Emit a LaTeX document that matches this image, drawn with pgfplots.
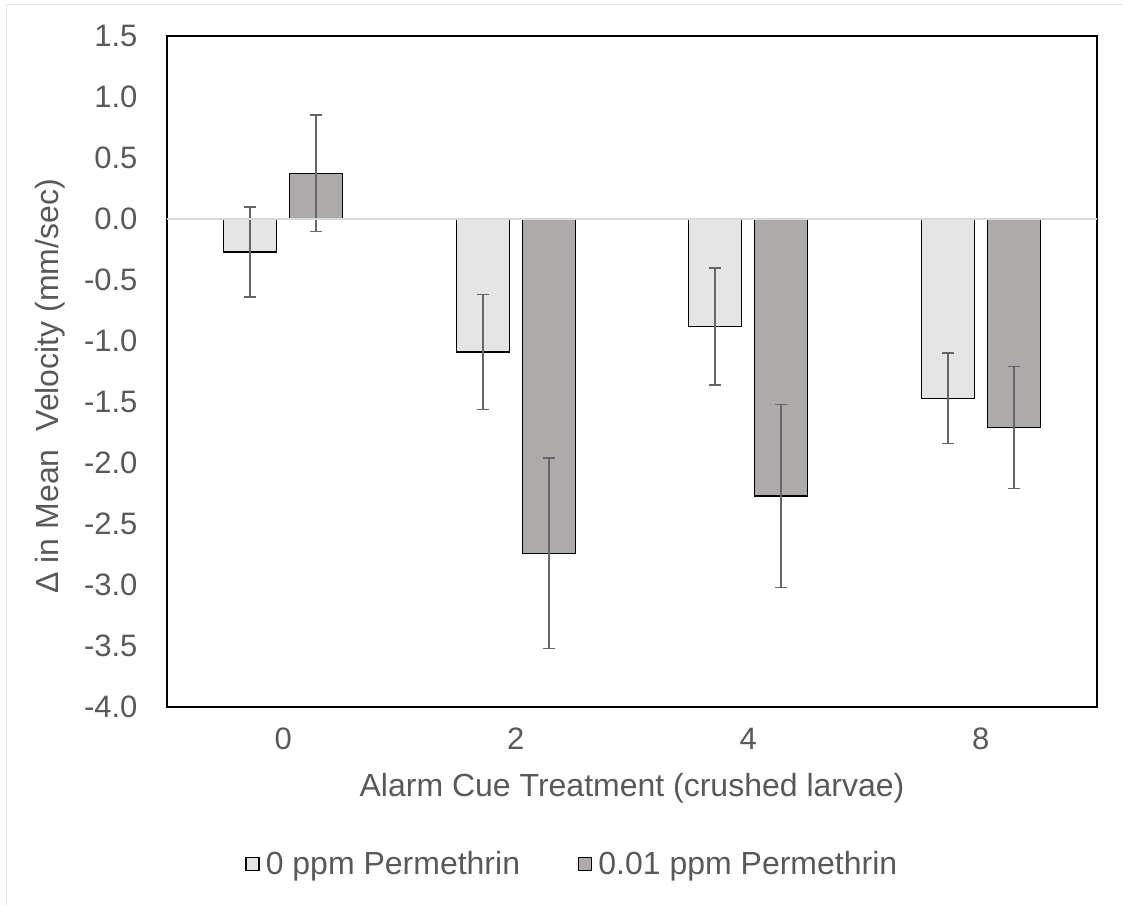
\documentclass[border=0pt]{standalone}
\usepackage{pgfplots}
\pgfplotsset{compat=1.18}
\usepackage{fontspec}
\setmainfont{Liberation Sans}
\definecolor{txt}{HTML}{595959}
\definecolor{lightbar}{HTML}{E6E5E5}
\definecolor{darkbar}{HTML}{AEAAAA}
\definecolor{errc}{HTML}{666666}
\definecolor{zeroline}{HTML}{D9D9D9}
\newcommand{\fs}{\fontsize{31bp}{36bp}\selectfont}
\newcommand{\fl}{\fontsize{32bp}{37bp}\selectfont}
\newcommand{\fg}{\fontsize{32bp}{37bp}\selectfont}
\begin{document}
\begin{tikzpicture}
\useasboundingbox (0,0) rectangle (1122bp,905bp);
\draw[color=zeroline!70, line width=1bp] (6bp,0) -- (6bp,900bp) -- (1122bp,900bp);
\begin{axis}[
  at={(167bp,198bp)}, anchor=south west,
  scale only axis, width=930bp, height=671bp,
  xmin=-0.5, xmax=3.5, ymin=-4, ymax=1.5,
  ytick={-4,-3.5,...,1.5},
  xtick={0,1,2,3}, xticklabels={0,2,4,8},
  /pgf/number format/assume math mode=true,
  /pgf/number format/fixed, /pgf/number format/fixed zerofill, /pgf/number format/precision=1,
  major tick length=0pt,
  axis line style={black, line width=1.8bp},
  tick label style={font=\fs, text=txt},
  yticklabel style={xshift=-26bp},
  xticklabel style={yshift=-19bp, inner ysep=2bp},
  ybar, bar width=53bp,
  legend style={at={(0.438,-0.234)}, anchor=center, draw=none, fill=none, font=\fg, text=txt,
    legend columns=2, /tikz/every even column/.append style={column sep=52bp},
    nodes={inner xsep=6bp},
    legend cell align=left},
  legend image code/.code={\draw[#1, line width=1.3bp, draw=black] (0bp,-6.5bp) rectangle (13bp,6.5bp);},
  error bars/y dir=both, error bars/y explicit,
  error bars/error bar style={errc, line width=1.6bp},
  error bars/error mark options={errc, line width=1.6bp, mark size=6bp, rotate=90},
  clip=false,
]
\addplot[fill=lightbar, draw=black, line width=1.3bp, bar shift=-33bp]
  coordinates {(0,-0.27) +- (0,0.37) (1,-1.09) +- (0,0.47) (2,-0.88) +- (0,0.48) (3,-1.47) +- (0,0.37)};
\addlegendentry{0 ppm Permethrin}
\addplot[fill=darkbar, draw=black, line width=1.3bp, bar shift=33bp]
  coordinates {(0,0.375) +- (0,0.477) (1,-2.74) +- (0,0.78) (2,-2.27) +- (0,0.75) (3,-1.71) +- (0,0.50)};
\addlegendentry{0.01 ppm Permethrin}
\draw[zeroline, line width=1.6bp] (axis cs:-0.5,0) -- (axis cs:3.5,0);
\node[font=\fl, text=txt, rotate=90, anchor=center] at (axis description cs:-0.126,0.478) {Δ in Mean\ \ Velocity (mm/sec)};
\node[font=\fl, text=txt, anchor=center] at (axis description cs:0.5,-0.121) {Alarm Cue Treatment (crushed larvae)};
\end{axis}
\end{tikzpicture}
\end{document}
